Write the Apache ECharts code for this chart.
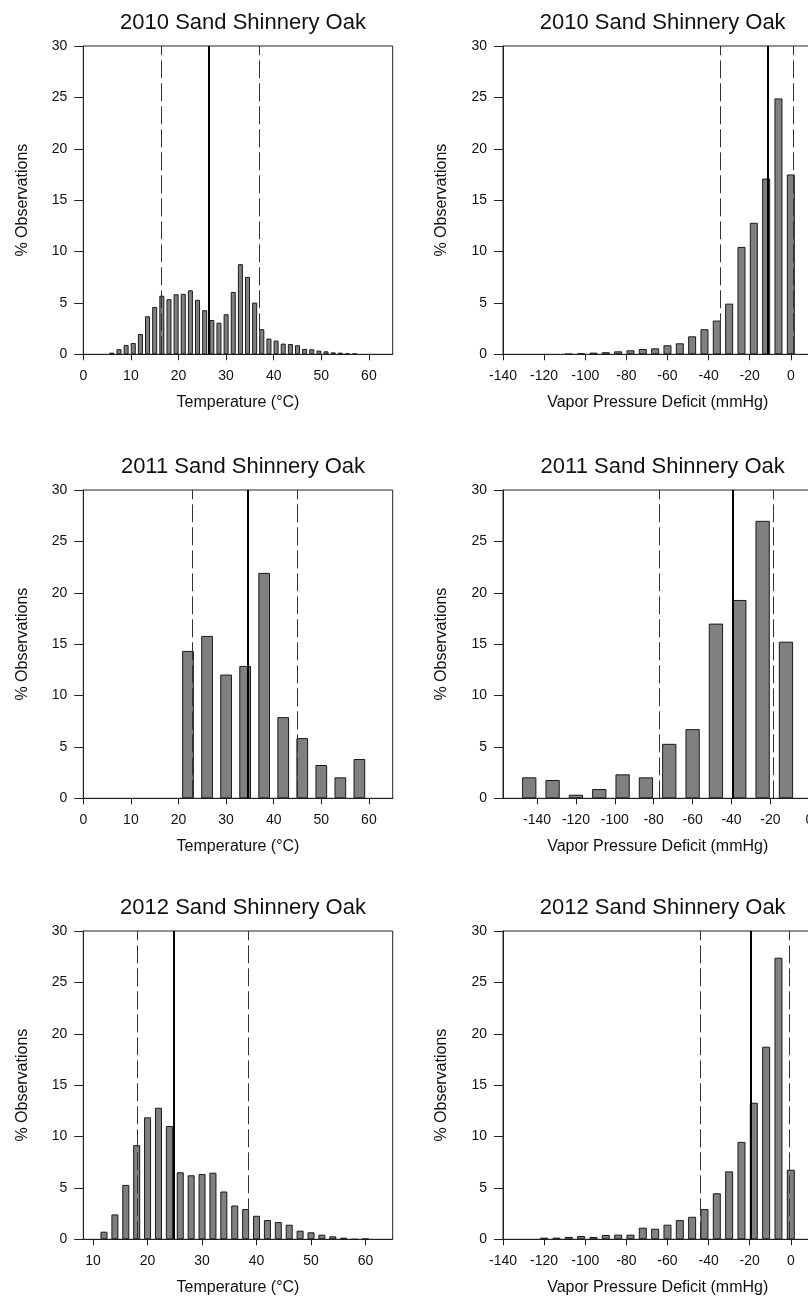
<!DOCTYPE html>
<html><head><meta charset="utf-8">
<script src="https://cdn.jsdelivr.net/npm/echarts@6/dist/echarts.min.js"></script>
<style>html,body{margin:0;padding:0;background:#fff;overflow:hidden}#c{width:808px;height:1310px}</style>
</head><body><div id="c"></div>
<script>
// ---- data ----
const t2010X = [6,7.5,9,10.5,12,13.5,15,16.5,18,19.5,21,22.5,24,25.5,27,28.5,30,31.5,33,34.5,36,37.5,39,40.5,42,43.5,45,46.5,48,49.5,51,52.5,54,55.5,57];
const t2010Y = [0.16,0.49,0.91,1.1,1.98,3.7,4.6,5.7,5.36,5.84,5.88,6.23,5.3,4.29,3.34,3.08,3.9,6.07,8.77,7.53,5.03,2.44,1.53,1.33,1.04,1.0,0.88,0.52,0.49,0.36,0.29,0.19,0.16,0.1,0.06];
const v2010X = [-108,-102,-96,-90,-84,-78,-72,-66,-60,-54,-48,-42,-36,-30,-24,-18,-12,-6,0];
const v2010Y = [0.03,0.1,0.16,0.2,0.29,0.39,0.52,0.58,0.88,1.07,1.75,2.44,3.28,4.93,10.45,12.8,17.1,24.9,17.5];
const t2011X = [22,26,30,34,38,42,46,50,54,58];
const t2011Y = [14.34,15.8,12.04,12.88,21.94,7.9,5.86,3.24,2.04,3.82];
const v2011X = [-144,-132,-120,-108,-96,-84,-72,-60,-48,-36,-24,-12];
const v2011Y = [2.04,1.78,0.35,0.9,2.33,2.04,5.3,6.73,17.0,19.3,27.0,15.24];
const t2012X = [12,14,16,18,20,22,24,26,28,30,32,34,36,38,40,42,44,46,48,50,52,54,56,58,60];
const t2012Y = [0.74,2.42,5.29,9.16,11.87,12.8,11.03,6.52,6.23,6.35,6.48,4.65,3.29,2.94,2.29,1.87,1.68,1.42,0.84,0.68,0.45,0.29,0.16,0,0.06];
const v2012X = [-120,-114,-108,-102,-96,-90,-84,-78,-72,-66,-60,-54,-48,-42,-36,-30,-24,-18,-12,-6,0];
const v2012Y = [0.16,0.16,0.23,0.32,0.23,0.42,0.45,0.45,1.13,1.03,1.42,1.87,2.19,2.94,4.48,6.61,9.48,13.29,18.74,27.4,6.77];
// [lower dashed, solid, upper dashed]
const lines2010T = [16.3, 26.3, 37.0];
const lines2010V = [-34.4, -11.2, 1.0];
const lines2011T = [22.8, 34.6, 45.0];
const lines2011V = [-77, -39.4, -18.6];
const lines2012T = [18.1, 24.8, 38.4];
const lines2012V = [-44.1, -19.5, -1.0];
const titles = ['2010 Sand Shinnery Oak','2010 Sand Shinnery Oak','2011 Sand Shinnery Oak','2011 Sand Shinnery Oak','2012 Sand Shinnery Oak','2012 Sand Shinnery Oak'];
const tempTicks = [0,10,20,30,40,50,60];
const tempTicks2012 = [10,20,30,40,50,60];
const vpdTicks = [-140,-120,-100,-80,-60,-40,-20,0];
const yTicks = [0,5,10,15,20,25,30];
const tempName = 'Temperature (°C)';
const vpdName = 'Vapor Pressure Deficit (mmHg)';
const yName = '% Observations';

// ---- layout ----
const FONT = 'Liberation Sans';
const W = 309.4, H = 308.3;
const lefts = [83.3, 503];
const tops = [46, 490, 931];
const panels = [
  {xs:t2010X, ys:t2010Y, lines:lines2010T, min:0, max:65, ticks:tempTicks, name:tempName, bw:5},
  {xs:v2010X, ys:v2010Y, lines:lines2010V, min:-140, max:10.5, ticks:vpdTicks, name:vpdName, bw:8},
  {xs:t2011X, ys:t2011Y, lines:lines2011T, min:0, max:65, ticks:tempTicks, name:tempName, bw:11.7},
  {xs:v2011X, ys:v2011Y, lines:lines2011V, min:-157.5, max:1.6, ticks:vpdTicks, name:vpdName, bw:14.3},
  {xs:t2012X, ys:t2012Y, lines:lines2012T, min:8.2, max:65, ticks:tempTicks2012, name:tempName, bw:7},
  {xs:v2012X, ys:v2012Y, lines:lines2012V, min:-140, max:10.5, ticks:vpdTicks, name:vpdName, bw:8}
];
const grid=[], xAxis=[], yAxis=[], series=[], title=[];
panels.forEach((p,i)=>{
  const col=i%2, row=Math.floor(i/2);
  const L=lefts[col], T=tops[row];
  grid.push({left:L, top:T, width:W, height:H, outerBoundsMode:'none', containLabel:false,
    show:true, borderColor:'#222', borderWidth:1, backgroundColor:'transparent'});
  title.push({text:titles[i], left:L+W/2, top:T-39, textAlign:'center',
    textStyle:{fontFamily:FONT, fontSize:22, fontWeight:'normal', color:'#111'}});
  xAxis.push({type:'value', gridIndex:i, min:p.min, max:p.max,
    name:p.name, nameLocation:'middle', nameGap:40,
    nameTextStyle:{fontFamily:FONT, fontSize:16, color:'#111'},
    axisLine:{show:true, onZero:false, lineStyle:{color:'#222', width:1}},
    axisTick:{show:true, length:6, customValues:p.ticks, lineStyle:{color:'#222'}},
    axisLabel:{customValues:p.ticks, fontFamily:FONT, fontSize:14, color:'#111', margin:15},
    splitLine:{show:false}});
  yAxis.push({type:'value', gridIndex:i, min:0, max:30, position:'left',
    name:yName, nameLocation:'middle', nameGap:53,
    nameTextStyle:{fontFamily:FONT, fontSize:16, color:'#111'},
    axisLine:{show:true, onZero:false, lineStyle:{color:'#222', width:1}},
    axisTick:{show:true, length:9, customValues:yTicks, lineStyle:{color:'#222'}},
    axisLabel:{customValues:yTicks, fontFamily:FONT, fontSize:14, color:'#111', margin:16},
    splitLine:{show:false}});
  series.push({type:'bar', xAxisIndex:i, yAxisIndex:i, barWidth:p.bw,
    data:p.xs.map((x,k)=>[x,p.ys[k]]),
    itemStyle:{color:'#808080', borderColor:'#1a1a1a', borderWidth:1},
    silent:true, animation:false,
    markLine:{symbol:'none', silent:true, animation:false, label:{show:false},
      data:[
        {xAxis:p.lines[0], lineStyle:{type:[18,5], color:'#333', width:1}},
        {xAxis:p.lines[1], lineStyle:{type:'solid', color:'#000', width:2}},
        {xAxis:p.lines[2], lineStyle:{type:[18,5], color:'#333', width:1}}
      ]}
  });
});
const chart = echarts.init(document.getElementById('c'), null, {renderer:'canvas'});
chart.setOption({animation:false, title, grid, xAxis, yAxis, series});
</script></body></html>
